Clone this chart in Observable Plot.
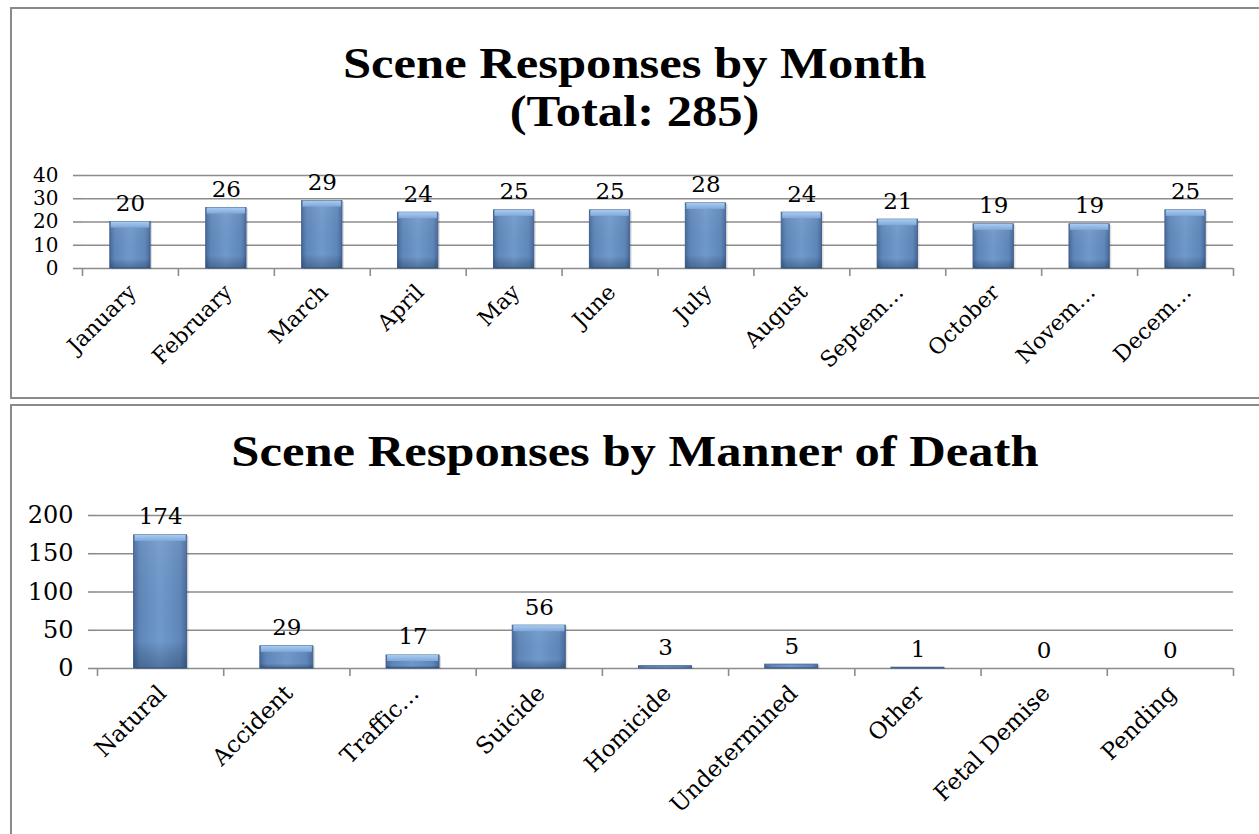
<!DOCTYPE html>
<html>
<head>
<meta charset="utf-8">
<script src="https://cdn.jsdelivr.net/npm/d3@7"></script>
<script src="https://cdn.jsdelivr.net/npm/@observablehq/plot@0.6"></script>
<style>
  html, body { margin: 0; padding: 0; background: #fff; }
  body { width: 1259px; height: 834px; position: relative; overflow: hidden; }
  .box { position: absolute; left: 10px; width: 1262px; border: 2px solid #8a8a8a; box-sizing: border-box; }
  .title { position: absolute; left: 10px; width: 1250px; text-align: center;
           font-family: "Liberation Serif", serif; font-weight: bold; font-size: 44px; line-height: 48px; color: #000; }
  .title span { display: inline-block; transform: scaleX(1.15); transform-origin: center; white-space: nowrap; }
  .chart { position: absolute; left: 0; }
  .chart svg { overflow: visible; }
</style>
</head>
<body>
<svg width="0" height="0" style="position:absolute">
  <defs>
    <linearGradient id="barBody" x1="0" y1="0" x2="1" y2="0">
      <stop offset="0" stop-color="#48699a"/>
      <stop offset="0.12" stop-color="#5f87ba"/>
      <stop offset="0.5" stop-color="#709acc"/>
      <stop offset="0.88" stop-color="#5f87ba"/>
      <stop offset="1" stop-color="#48699a"/>
    </linearGradient>
    <linearGradient id="barShade" x1="0" y1="0" x2="0" y2="1">
      <stop offset="0" stop-color="#ffffff" stop-opacity="0.08"/>
      <stop offset="0.8" stop-color="#000000" stop-opacity="0"/>
      <stop offset="1" stop-color="#0a2040" stop-opacity="0.3"/>
    </linearGradient>
    <linearGradient id="barTop" x1="0" y1="0" x2="0" y2="1">
      <stop offset="0" stop-color="#a9cbf0"/>
      <stop offset="1" stop-color="#7fa9da"/>
    </linearGradient>
  </defs>
</svg>

<div class="box" style="top:7px;height:392px"></div>
<div class="box" style="top:404px;height:440px"></div>

<div class="title" style="top:40px"><span>Scene Responses by Month</span><br><span>(Total: 285)</span></div>
<div class="title" style="top:428px"><span>Scene Responses by Manner of Death</span></div>

<div id="c1" class="chart" style="top:140px"></div>
<div id="c2" class="chart" style="top:490px"></div>

<script>
// ---- Data ----
const months = ["January", "February", "March", "April", "May", "June", "July", "August", "Septem…", "October", "Novem…", "Decem…"];
const monthCounts = [20, 26, 29, 24, 25, 25, 28, 24, 21, 19, 19, 25];
const monthTicks = [0, 10, 20, 30, 40];

const manners = ["Natural", "Accident", "Traffic…", "Suicide", "Homicide", "Undetermined", "Other", "Fetal Demise", "Pending"];
const mannerCounts = [174, 29, 17, 56, 3, 5, 1, 0, 0];
const mannerTicks = [0, 50, 100, 150, 200];

const GRID = "#8c8c8c";
const FONT = "DejaVu Serif";

function barChart({labels, values, yTicks, width, height, marginTop, marginBottom, marginLeft, marginRight, labelDy, labelSize, axisSize}) {
  const rows = labels.map((name, i) => ({name, value: values[i], i}));
  const n = labels.length;
  const yMax = yTicks[yTicks.length - 1];
  const plotH = height - marginTop - marginBottom;
  const drawn = rows.filter(d => d.value > 0);
  const bevelRows = rows.filter(d => d.value / yMax * plotH > 10);
  const x1 = d => d.i + 0.29, x2 = d => d.i + 0.71;
  return Plot.plot({
    width, height, marginTop, marginBottom, marginLeft, marginRight,
    style: {fontFamily: FONT, fontSize: "22px", color: "#000", background: "transparent", overflow: "visible"},
    x: {type: "linear", domain: [0, n]},
    y: {domain: [0, yMax]},
    marks: [
      Plot.gridY(yTicks, {stroke: GRID, strokeOpacity: 1, strokeWidth: 1.6}),
      Plot.axisY(yTicks, {tickSize: 9, tickPadding: 15, stroke: GRID, strokeWidth: 1.6, fill: "#000", fontSize: axisSize, label: null}),
      Plot.axisX(d3.range(n + 1), {tickSize: 8, stroke: GRID, strokeWidth: 1.6, tickFormat: () => "", label: null}),
      Plot.rectY(drawn, {x1, x2, y1: 0, y2: "value", fill: "#000", fillOpacity: 0.12, dx: 2, dy: 1}),
      Plot.rectY(drawn, {x1, x2, y1: 0, y2: "value", fill: "url(#barBody)", stroke: "#3f6290", strokeWidth: 1}),
      Plot.rectY(drawn, {x1, x2, y1: 0, y2: "value", fill: "url(#barShade)"}),
      Plot.rectY(bevelRows, {x1, x2, y1: "value", y2: "value", insetBottom: -6, insetLeft: 1, insetRight: 1, fill: "url(#barTop)"}),
      Plot.text(rows, {x: d => d.i + 0.5, y: "value", text: d => String(d.value), lineAnchor: "bottom", dy: -11, fontSize: 23, fill: "#000"}),
      Plot.text(rows, {x: d => d.i + 0.5, frameAnchor: "bottom", text: "name", rotate: -45, textAnchor: "end", lineAnchor: "middle", dx: 2, dy: labelDy, fontSize: labelSize, fill: "#000"})
    ]
  });
}

document.getElementById("c1").append(barChart({
  labels: months, values: monthCounts, yTicks: monthTicks,
  width: 1259, height: 258, marginTop: 35, marginBottom: 130, marginLeft: 82, marginRight: 26, labelDy: 20, labelSize: 22, axisSize: 20
}));
document.getElementById("c2").append(barChart({
  labels: manners, values: mannerCounts, yTicks: mannerTicks,
  width: 1259, height: 344, marginTop: 25, marginBottom: 166, marginLeft: 97, marginRight: 26, labelDy: 21, labelSize: 23, axisSize: 24
}));
</script>
</body>
</html>
